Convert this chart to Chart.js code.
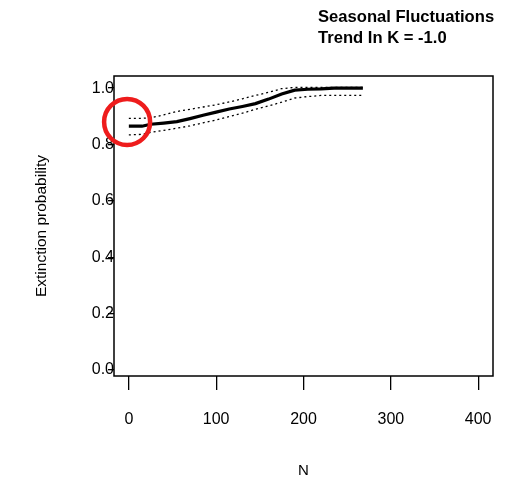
<!DOCTYPE html>
<html>
<head>
<meta charset="utf-8">
<script src="https://cdn.jsdelivr.net/npm/chart.js@4"></script>
<style>
  html, body { margin: 0; padding: 0; background: #fff; }
  #wrap { width: 513px; height: 479px; }
</style>
</head>
<body>
<div id="wrap"><canvas id="chartExt"></canvas></div>
<script>
// data
const nValues = [0, 15, 25, 40, 55, 70, 85, 100, 115, 130, 145, 160, 175, 190, 205, 220, 235, 250, 268];
const meanProb = [0.865, 0.865, 0.872, 0.876, 0.881, 0.892, 0.904, 0.915, 0.926, 0.935, 0.945, 0.961, 0.979, 0.993, 0.996, 0.997, 1.0, 1.0, 1.0];
const upperProb = [0.893, 0.893, 0.895, 0.905, 0.917, 0.925, 0.933, 0.941, 0.951, 0.962, 0.974, 0.985, 0.998, 1.003, 1.003, 1.003, 1.003, 1.003, 1.003];
const lowerProb = [0.834, 0.836, 0.843, 0.850, 0.858, 0.866, 0.877, 0.887, 0.899, 0.911, 0.925, 0.937, 0.950, 0.965, 0.970, 0.974, 0.974, 0.974, 0.974];
const xTicks = [0, 100, 200, 300, 400];
const yTicks = [0, 0.2, 0.4, 0.6, 0.8, 1.0];
const titleLines = ['Seasonal Fluctuations', 'Trend In K = -1.0'];
const circleAt = {x: -2, y: 0.88};

const font = 'Arial, "Liberation Sans", sans-serif';

function pts(ys) {
    return nValues.map((n, i) => ({x: n, y: ys[i]}));
}

const ctx = document.getElementById('chartExt').getContext('2d');
new Chart(ctx, {
    type: 'line',
    data: {
        datasets: [
            {data: pts(meanProb), borderColor: '#000', borderWidth: 3.2, pointRadius: 0, tension: 0},
            {data: pts(upperProb), borderColor: '#000', borderWidth: 1.3, borderDash: [2, 3], pointRadius: 0, tension: 0},
            {data: pts(lowerProb), borderColor: '#000', borderWidth: 1.3, borderDash: [2, 3], pointRadius: 0, tension: 0}
        ]
    },
    options: {
        responsive: true,
        maintainAspectRatio: false,
        animation: false,
        layout: {padding: {top: 76, right: 20, left: 0, bottom: 0}},
        plugins: {legend: {display: false}, tooltip: {enabled: false}},
        scales: {
            x: {
                type: 'linear',
                min: -17,
                max: 417,
                afterBuildTicks: s => { s.ticks = xTicks.map(v => ({value: v})); },
                afterFit: s => { s.height = 103; },
                grid: {drawOnChartArea: false, tickLength: 14, color: '#000', lineWidth: 1.3},
                border: {display: false},
                ticks: {padding: 20, color: '#000', font: {family: font, size: 16}},
                title: {display: true, text: 'N', color: '#000', font: {family: font, size: 15}, padding: {top: 30, bottom: -1}}
            },
            y: {
                min: -0.021,
                max: 1.043,
                afterBuildTicks: s => { s.ticks = yTicks.map(v => ({value: v})); },
                afterFit: s => { s.width = 114; },
                grid: {drawOnChartArea: false, tickLength: 6, color: '#000', lineWidth: 1.3},
                border: {display: false},
                ticks: {padding: -6, color: '#000', font: {family: font, size: 16},
                    callback: v => v.toFixed(1)},
                title: {display: true, text: 'Extinction probability', color: '#000', font: {family: font, size: 15.5}, padding: {top: 32, bottom: 0}}
            }
        }
    },
    plugins: [{
        id: 'boxAndTitle',
        afterDraw(chart) {
            const {ctx, chartArea, scales} = chart;
            ctx.save();
            ctx.strokeStyle = '#000';
            ctx.lineWidth = 1.5;
            ctx.strokeRect(chartArea.left, chartArea.top, chartArea.right - chartArea.left, chartArea.bottom - chartArea.top);
            // red circle marker
            ctx.strokeStyle = '#ee1c1c';
            ctx.lineWidth = 4.5;
            ctx.beginPath();
            ctx.arc(scales.x.getPixelForValue(circleAt.x), scales.y.getPixelForValue(circleAt.y), 23, 0, Math.PI * 2);
            ctx.stroke();
            // title
            ctx.fillStyle = '#000';
            ctx.font = 'bold 16.6px ' + font;
            ctx.textAlign = 'left';
            ctx.textBaseline = 'middle';
            ctx.fillText(titleLines[0], 318, 17);
            ctx.fillText(titleLines[1], 318, 38);
            ctx.restore();
        }
    }]
});
</script>
</body>
</html>
